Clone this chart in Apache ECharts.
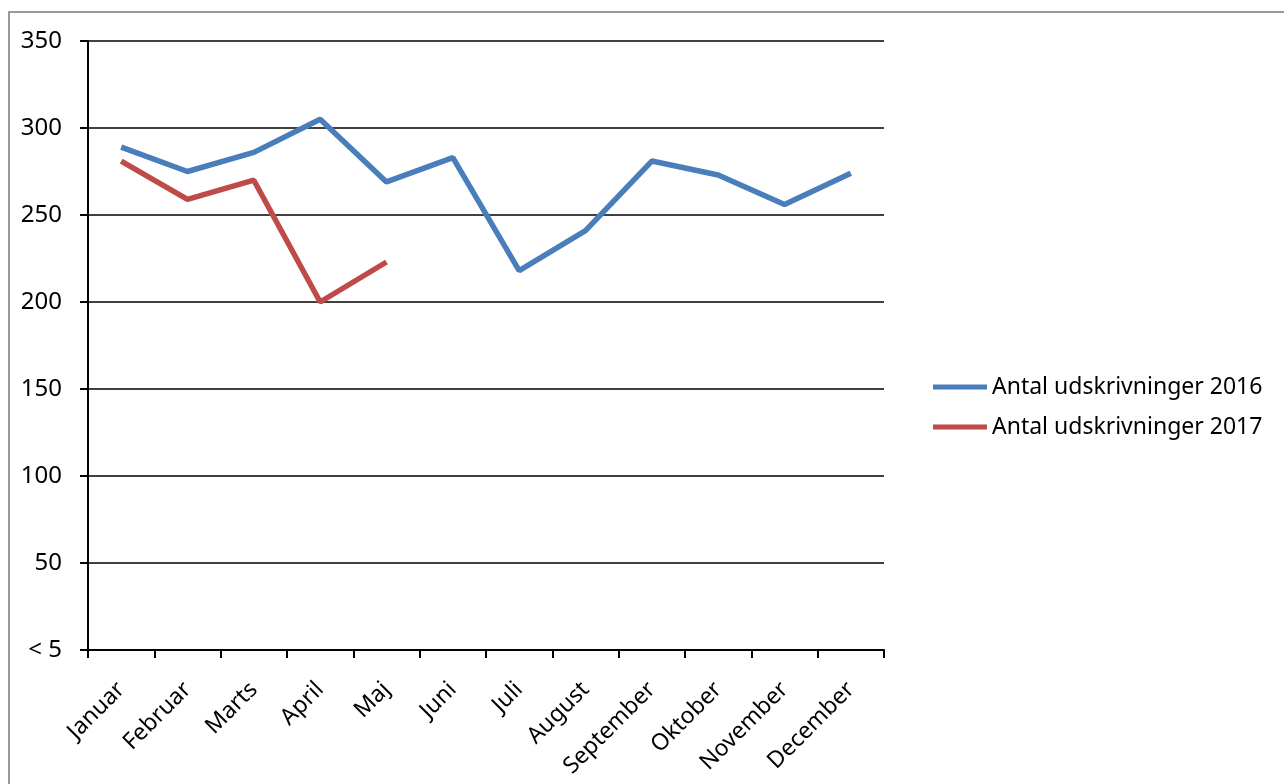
<!DOCTYPE html>
<html>
<head>
<meta charset="utf-8">
<script src="https://cdn.jsdelivr.net/npm/echarts@6/dist/echarts.min.js"></script>
<style>
  html, body { margin: 0; padding: 0; background: #fff; }
  #report { width: 1284px; height: 784px; }
</style>
</head>
<body>
<div id="report"></div>
<script>
var months = ['Januar', 'Februar', 'Marts', 'April', 'Maj', 'Juni', 'Juli', 'August', 'September', 'Oktober', 'November', 'December'];
var data2016 = [289, 275, 286, 305, 269, 283, 218, 241, 281, 273, 256, 274];
var data2017 = [281, 259, 270, 200, 223];
var yTickLabels = ['< 5', '50', '100', '150', '200', '250', '300', '350'];
var seriesNames = ['Antal udskrivninger 2016', 'Antal udskrivninger 2017'];

var font = '"Noto Sans", sans-serif';

var option = {
    animation: false,
    color: ['#4A7EBB', '#BE4B48'],
    graphic: [
        {
            type: 'rect',
            shape: { x: 9, y: 12, width: 1400, height: 900 },
            style: { fill: 'none', stroke: '#9a9a9a', lineWidth: 2 },
            silent: true
        }
    ],
    grid: {
        left: 88,
        top: 41,
        width: 796,
        height: 609
    },
    legend: {
        orient: 'vertical',
        left: 933,
        top: 374,
        padding: 0,
        icon: 'rect',
        itemWidth: 54,
        itemHeight: 5,
        itemGap: 14,
        textStyle: { fontFamily: font, fontSize: 23, lineHeight: 26, color: '#000' },
        data: seriesNames
    },
    xAxis: {
        type: 'category',
        data: months,
        boundaryGap: true,
        axisLine: { lineStyle: { color: '#000', width: 2 } },
        axisTick: { show: true, length: 8, lineStyle: { color: '#000', width: 2 } },
        axisLabel: {
            interval: 0,
            rotate: 45,
            margin: 36,
            padding: [0, 0, 0, 6],
            fontFamily: font,
            fontSize: 23,
            color: '#000'
        }
    },
    yAxis: {
        type: 'value',
        min: 0,
        max: 350,
        interval: 50,
        axisLine: { show: true, lineStyle: { color: '#000', width: 2 } },
        axisTick: { show: true, length: 8, lineStyle: { color: '#000', width: 2 } },
        splitLine: { show: true, lineStyle: { color: '#000', width: 1.5 } },
        axisLabel: {
            margin: 26,
            padding: [8, 0, 0, 0],
            fontFamily: font,
            fontSize: 24,
            color: '#000',
            formatter: function (v) { return yTickLabels[Math.round(v / 50)]; }
        }
    },
    series: [
        {
            name: seriesNames[0],
            type: 'line',
            data: data2016,
            symbol: 'none',
            lineStyle: { width: 5.5 }
        },
        {
            name: seriesNames[1],
            type: 'line',
            data: data2017,
            symbol: 'none',
            lineStyle: { width: 5.5 }
        }
    ]
};

var myChart = echarts.init(document.getElementById('report'));
myChart.setOption(option);
</script>
</body>
</html>
